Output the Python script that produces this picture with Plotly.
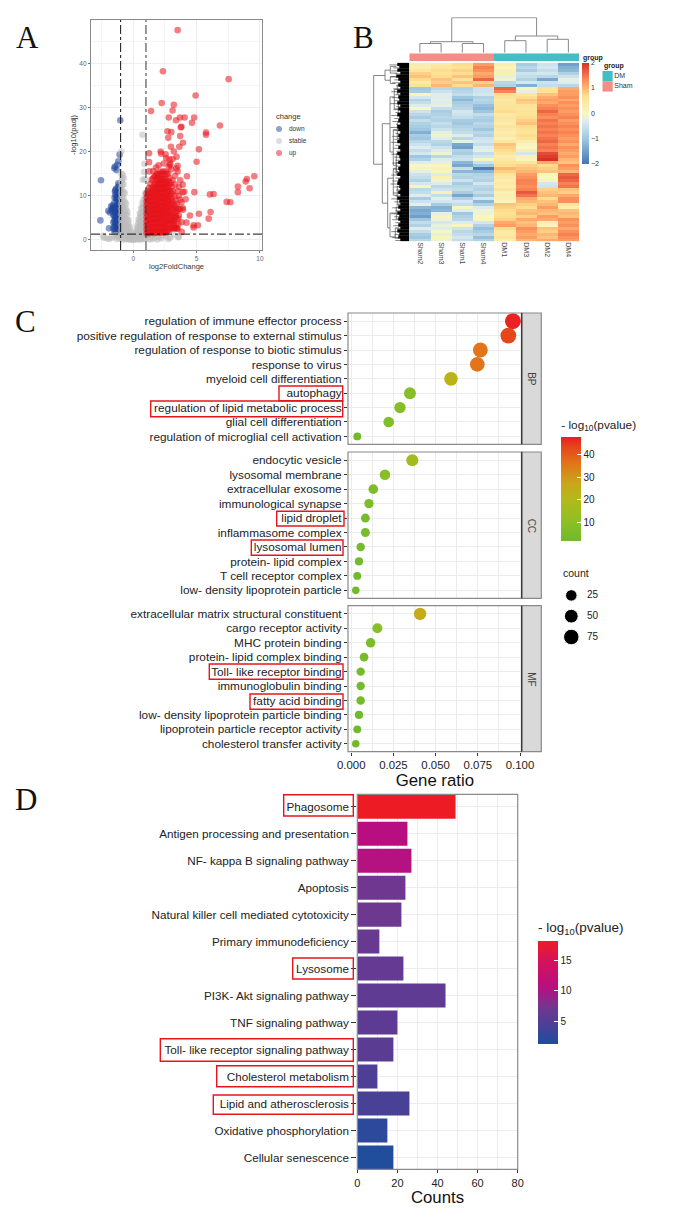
import plotly.graph_objects as go

W, H = 685, 1218

# ---- panel A: volcano
FC_CUT = 1.0
P_CUT = 1.3
vol_xrange = [-3.34, 10.16]
vol_yrange = [-2.3, 49.8]

down_x = [-1.03, -1.08, -1.18, -1.45, -1.26, -1.5, -1.32, -2.55, -2.6, -1.97, -1.68, -1.92, -1.18, -1.26, -1.45,
          -1.1, -1.26, -1.13, -1.35, -1.05, -1.2, -1.3, -1.1, -1.4, -1.55, -1.75, -1.85,
          -1.08, -1.22, -1.36, -1.15, -1.42, -1.06, -1.28, -1.5, -1.62, -1.7, -1.48]
down_y = [27.1, 19.3, 17.8, 16.6, 17, 16.2, 15.8, 13.5, 4.4, 6.6, 7.1, 2.6, 12.8, 10.9, 10.9,
          10.1, 9.8, 9, 11.6, 11.2, 12, 9.2, 8.6, 10.2, 7.4, 7.6, 6.2,
          12.4, 10.4, 9.5, 9.4, 11.3, 11, 8.7, 8.4, 7.8, 6.6, 9.6]
down_core = {
    -1.02: [1.6, 2.4, 3.3, 4.1, 5, 5.8, 6.7, 7.5, 8.3],
    -1.1: [1.8, 2.7, 3.5, 4.4, 5.2, 6.1, 6.9, 7.8],
    -1.18: [1.5, 2.3, 3.2, 4, 4.9, 5.7, 6.6, 7.4, 8],
    -1.26: [1.9, 2.8, 3.6, 4.5, 5.3, 6.2, 7, 7.7],
    -1.34: [1.7, 2.5, 3.4, 4.2, 5.1, 5.9, 6.8, 7.5],
    -1.42: [2.1, 3, 3.8, 4.7, 5.5, 6.4, 7.2],
    -1.5: [2, 3.1, 4.3, 5.4, 6.5, 7.3],
    -1.58: [2.6, 4, 5.6, 6.9],
}

stable_x = [0.72, -0.95, 0.88, 0.85, 0.75, 0.92, -0.85, -0.9, -0.75, -2.4, -2.3, -2.05, -1.7, -1.5, -1.3, -1.2, -1.1,
            1.1, 1.2, 1.4, 1.5, 1.7, 1.9, 2, 2.3, 2.6, 2.9, 3.2, 3.55, 3.6, -1.9, -1.4, 1.3, 2.2, 2.75]
stable_y = [23.8, 20, 17.2, 15.4, 13.6, 13.7, 14.8, 13.5, 14, 0.9, 0.5, 0.3, 0.5, 0.8, 0.2, 0.9, 0.5,
            0.9, 0.4, 0.9, 0.2, 0.5, 0.1, 0.7, 1, 0.9, 0.5, 1.1, 0.6, 0.8, 0.2, 1.1, 0.1, 0.3, 0.2]
stable_core = {
    -0.96: [0.2, 1, 2.2, 3.4, 4.6, 5.8, 7, 8.2, 9.4, 10.6, 11.8, 13, 15],
    -0.87: [0.5, 1.6, 2.8, 4, 5.2, 6.4, 7.6, 8.8, 10, 11.2, 12.4, 14],
    -0.78: [0.1, 1.2, 2.4, 3.6, 4.8, 6, 7.2, 8.4, 9.6, 10.8, 12.6],
    -0.68: [0.4, 1.5, 2.7, 3.9, 5.1, 6.3, 7.5, 8.7, 10.6],
    -0.58: [0.2, 1.1, 2.2, 3.4, 4.6, 5.8, 7, 8.2],
    -0.48: [0.3, 1.2, 2.3, 3.4, 4.5, 5.6, 6.4],
    -0.38: [0.1, 0.9, 1.8, 2.7, 3.6, 4.4],
    -0.28: [0.2, 0.8, 1.5, 2.2, 2.9],
    -0.18: [0.1, 0.5, 1, 1.6],
    -0.08: [0.1, 0.4, 0.7],
    0.02: [0, 0.3, 0.6],
    0.12: [0.1, 0.5, 0.9],
    0.22: [0.2, 0.8, 1.4, 2],
    0.32: [0.3, 1, 1.8, 2.6, 3.2],
    0.42: [0.1, 1, 2, 3, 4, 4.6],
    0.52: [0.3, 1.2, 2.2, 3.2, 4.2, 5.2, 6],
    0.62: [0.1, 1.1, 2.1, 3.1, 4.1, 5.1, 6.1, 7.2],
    0.72: [0.4, 1.4, 2.4, 3.4, 4.4, 5.4, 6.4, 7.4, 8.4],
    0.82: [0.2, 1.2, 2.2, 3.2, 4.2, 5.2, 6.2, 7.2, 8.2, 9.2],
    0.93: [0.4, 1.3, 2.3, 3.3, 4.3, 5.3, 6.3, 7.3, 8.3, 9.3, 10.6],
}

up_x = [3.5, 2.34, 7.53, 4.92, 2.24, 3.2, 3.1, 1.4, 2.8, 3.37, 3.68, 4.05, 4.8, 4.63, 6.84, 3.8, 3.75, 5.74, 5.74, 2.7, 3,
        3.7, 2.76, 3.92, 3.63, 2.97, 5.18, 2.16, 3.2, 1.24, 2.55, 3.42, 1.24, 5, 2, 2.9, 3.5, 1.58, 1.26, 4.24, 9.55,
        8.97, 8.87, 8.26, 9.18, 8.26, 4.82, 6.05, 6.34, 7.37, 7.66, 4.13, 3.68, 3.92, 6.1, 5.18, 4.47, 5.95, 3.82, 4.2,
        4.76, 5.1, 4.76, 3.3, 3.82, 4.03, 2.9, 2.8, 3, 3.5, 3.3, 3.7, 3.9, 3.6, 3.5, 3.9, 3.3, 3.1, 3.4, 2.6, 2.85, 2.4,
        1.8, 2.2, 3.1, 3.6, 3.8, 3.7, 3.4, 3.6, 3.3, 3.1, 3.9, 3.2, 3.4, 3.5]
up_y = [47.5, 38.2, 36.4, 32.7, 31, 30.6, 29.3, 29.2, 27.7, 27.1, 27.7, 27.7, 27.7, 26.5, 25.9, 25.6, 25.5, 24.3, 23.8, 24.6, 24.4,
        23.5, 23.1, 22, 21.1, 21.1, 20.5, 20, 20, 19.6, 19.4, 18.8, 17.6, 17.7, 16.9, 17.3, 16.8, 15.6, 15.5, 14.4, 14.4,
        13.8, 13.2, 12.1, 11.7, 10.8, 10.8, 10.3, 10.4, 8.6, 8.5, 9.2, 9.1, 6.8, 6.3, 5.9, 5.5, 4.8, 4, 3.9,
        3.3, 3.3, 2.8, 2.6, 1.8, 10.9, 17, 16.5, 16, 15.5, 14.5, 13.5, 12.5, 12, 11, 10.8, 12.5, 13.5, 16.2, 18.5, 18.2, 17.3,
        16.4, 19.5, 18.3, 10, 8.5, 7, 6.5, 5.5, 5, 4.5, 7.2, 3.1, 2.7, 2.5]
up_core = {
    1.05: [1.5, 2.4, 3.3, 4.2, 5.1, 6, 6.9, 7.8, 8.7, 9.6, 10.5],
    1.15: [1.7, 2.6, 3.5, 4.4, 5.3, 6.2, 7.1, 8, 8.9, 9.8, 11.1],
    1.25: [1.5, 2.5, 3.5, 4.5, 5.5, 6.5, 7.5, 8.5, 9.5, 10.5, 11.8],
    1.35: [1.8, 2.8, 3.8, 4.8, 5.8, 6.8, 7.8, 8.8, 9.8, 10.8, 12.7],
    1.45: [1.6, 2.6, 3.6, 4.6, 5.6, 6.6, 7.6, 8.6, 9.6, 10.6, 11.6, 13.6],
    1.55: [1.9, 2.9, 3.9, 4.9, 5.9, 6.9, 7.9, 8.9, 9.9, 10.9, 11.9, 13.9],
    1.65: [1.5, 2.6, 3.7, 4.8, 5.9, 7, 8.1, 9.2, 10.3, 11.4, 12.5, 14.3],
    1.75: [1.8, 2.8, 3.8, 4.8, 5.8, 6.8, 7.8, 8.8, 9.8, 10.8, 11.8, 12.8, 14.5],
    1.85: [1.6, 2.7, 3.8, 4.9, 6, 7.1, 8.2, 9.3, 10.4, 11.5, 12.6, 13.7, 14.9],
    1.95: [1.9, 2.9, 3.9, 4.9, 5.9, 6.9, 7.9, 8.9, 9.9, 10.9, 11.9, 12.9, 13.9, 15],
    2.05: [1.7, 2.8, 3.9, 5, 6.1, 7.2, 8.3, 9.4, 10.5, 11.6, 12.7, 13.8, 14.9],
    2.15: [1.6, 2.6, 3.6, 4.6, 5.6, 6.6, 7.6, 8.6, 9.6, 10.6, 11.6, 12.6, 13.6, 15.4],
    2.25: [1.9, 3, 4.1, 5.2, 6.3, 7.4, 8.5, 9.6, 10.7, 11.8, 12.9, 14, 15],
    2.35: [1.7, 2.7, 3.7, 4.7, 5.7, 6.7, 7.7, 8.7, 9.7, 10.7, 11.7, 12.7, 13.7, 15.5],
    2.45: [1.8, 2.9, 4, 5.1, 6.2, 7.3, 8.4, 9.5, 10.6, 11.7, 12.8, 13.9, 14.9],
    2.55: [1.6, 2.7, 3.8, 4.9, 6, 7.1, 8.2, 9.3, 10.4, 11.5, 12.6, 13.7, 15.4],
    2.65: [2, 3.1, 4.2, 5.3, 6.4, 7.5, 8.6, 9.7, 10.8, 11.9, 13, 15],
    2.75: [2.3, 3.4, 4.5, 5.6, 6.7, 7.8, 8.9, 10, 11.1, 12.2, 13.3, 15],
    2.85: [2.2, 3.5, 4.8, 6.1, 7.4, 8.7, 10, 11.3, 12.6, 14],
    2.95: [2.6, 4, 5.4, 6.8, 8.2, 9.6, 11, 12.9],
    3.05: [2.8, 4.3, 5.8, 7.3, 8.8, 10.3, 12],
    3.15: [2.5, 4, 5.5, 7, 8.5, 11],
    3.25: [2.7, 4.4, 6.1, 7.8, 9.9],
    3.35: [3.4, 5.4, 7.4, 9],
    3.45: [2.6, 4.8, 6.4, 8],
    3.55: [3.6, 4.9, 7],
}

# ---- panel B: heatmap
samples = ["Sham2", "Sham3", "Sham1", "Sham4", "DM1", "DM3", "DM2", "DM4"]
sample_group = [0, 0, 0, 0, 1, 1, 1, 1]
expr = [
    [.3, .4, .7, 1.2, .3, -.9, -.5, -1.5], [.3, .5, .6, 1.4, .1, -.7, -.4, -1.3],
    [.5, .7, .8, 1.3, .2, -.9, -.6, -1.2], [.8, .6, .7, 1.1, .2, -.5, -.4, -.8],
    [.9, .7, .9, 1.2, -.2, -.6, -.7, -.5], [.7, .9, .6, 1.6, -.1, -.8, -1.4, -.2],
    [.4, .8, .9, .8, -.7, -.4, -.5, -.3], [.6, 1.0, .7, 1.0, -.8, -1.3, -.6, -.7],
    [-1, -.7, -.8, -.5, 1.6, .1, .6, 1.1], [-.9, -.5, -.7, -.5, 1.4, -.2, .6, 1.2],
    [.1, -.3, -.6, -.4, .7, .5, .9, 1.2], [-.4, -.3, -1.0, -.8, .6, .7, 1.1, 1.3],
    [-.8, -.2, -1.2, -.7, .4, .9, 1.2, 1.1], [-.6, -.3, -.9, -.8, .5, .8, 1.1, 1.3],
    [-.3, -.2, -.8, -1.1, .5, .6, 1.3, 1.2], [.0, -.6, -.7, -1.2, .6, .5, 1.4, 1.3],
    [-.5, -.9, -.4, -1, .7, .6, 1.6, 1.2], [-.7, -.8, -.5, -.6, .4, .6, 1.4, 1.3],
    [-.9, -.7, -.6, -.8, .5, .7, 1.3, 1.4], [-.6, -.8, -.9, -.9, .4, .8, 1.5, 1.2],
    [-.8, -.6, -1.0, -.7, .3, .9, 1.4, 1.3], [-.9, -.7, -.8, -.8, .5, .7, 1.5, 1.4],
    [-1, -.5, -.7, -1, .4, .6, 1.4, 1.3], [-1.3, -.2, -.6, -.7, .3, .5, 1.5, 1.4],
    [-.9, -.1, -.3, -.8, .4, .7, 1.4, 1.3], [-1, -.3, -.7, -.5, .2, .6, 1.5, 1.2],
    [-.7, -.7, -.2, -.4, .5, .3, 1.6, 1.3], [-.5, -.8, -1.4, -.6, .9, .1, 1.4, 1.1],
    [-.3, -.5, -1.5, -.3, .8, .0, 1.5, 1.3], [-.6, -.3, -.8, -.2, .7, .3, 1.4, 1.2],
    [-.4, -.1, -.9, -.6, .5, -.4, 1.8, 1.1], [-1.0, -.7, -.6, -.4, .3, .2, 1.9, 1.2],
    [-.8, -.3, -.5, .1, .4, .1, 2.0, 1.0], [-.3, -.2, -1.2, -.5, .6, .5, 1.1, .9],
    [.0, .1, -1.4, -1.0, .7, .8, .7, 1.3], [.1, .2, -.6, -1.9, 1.0, .9, .8, 1.2],
    [-.2, .1, -1.2, -1.2, .8, 1.0, .9, 1.0], [-.5, -.3, -.7, -.8, .6, 1.2, .1, 1.6],
    [-.6, .2, -.8, -.7, .4, 1.3, 0, 1.7], [-.8, -.1, -.5, -.8, .3, 1.4, .1, 1.6],
    [-.4, -.3, -.9, -.4, .4, 1.4, -.4, 1.4], [.1, -.7, -.7, -.7, .3, 1.3, -.5, 1.5],
    [-.7, -.5, -.6, -.8, .5, 1.4, .8, .9], [-.6, .2, -.9, -.6, .2, 1.7, .9, .8],
    [-.3, -.6, -1.4, -.9, .3, 1.5, 1.0, 1.1], [-.9, -.2, -.8, -.4, .2, 1.1, .7, 1.3],
    [-.5, -.4, -.4, -1.2, .1, 1.0, .9, 1.3], [-.2, -.9, -.6, -.8, .9, .8, 1.0, .5],
    [-1.2, -1.3, .1, -.3, .8, .7, 1.2, .3], [-1.4, -1.2, -.3, -.1, .7, .9, 1.0, .9],
    [-1.3, -.2, -1.0, -.1, .6, 1.0, .9, 1.0], [-1.5, .1, -.8, .0, .7, .8, 1.2, .9],
    [-1.0, -.1, -.7, .1, .8, 1.1, 1.1, 1.3], [-.6, -.4, -.3, -.4, 1.1, .9, .2, 1.2],
    [-.8, -.2, .1, -.8, 1.2, 1.0, .1, 1.3], [-.3, -.3, -.5, -1.1, .7, 1.3, .9, 1.1],
    [-.6, .0, -.7, -.9, .4, 1.2, .8, 1.3], [-.9, -.2, -.6, -.7, .4, 1.1, 1.0, 1.4],
    [-1.0, .1, -.4, -1.1, .5, 1.2, .9, 1.3], [-.7, -.1, -.6, -.8, .3, 1.0, 1.1, 1.2],
]
# column dendrogram: left leaf, right leaf, left height, right height, top height
col_left = [0, 2, 0.5, 4, 6, 4.5, 1.5]
col_right = [1, 3, 2.5, 5, 7, 6.5, 5.5]
col_left_h = [0, 0, 9.2, 0, 0, 12, 11]
col_right_h = [0, 0, 9.2, 0, 0, 13.4, 16.7]
col_top_h = [9.2, 9.2, 11, 12, 13.4, 16.7, 35]
# row dendrogram: depth in px left of the heatmap, rows spanned, depth of both children
row_depth = [35.6, 24.3, 19, 19, 27, 19.3, 15, 12, 11, 16, 12, 13, 21.6, 16, 13, 12, 19.3, 13, 14]
row_top = [3.8, 2, 0.8, 4.2, 20, 11, 8.5, 7, 13, 22, 19.5, 30, 38.3, 35, 33, 41, 50, 48, 55]
row_bottom = [33.6, 5.4, 3, 6.5, 46.7, 29.5, 15, 10, 17, 34, 25, 36, 55, 44, 37, 47, 58, 52, 58.5]
row_top_child = [24.3, 19, 13, 12, 19.3, 15, 12, 10, 10, 12, 10, 10, 16, 13, 10, 10, 13, 10, 10]
row_bottom_child = [27, 19, 12, 14, 21.6, 16, 11, 10, 9, 13, 9, 11, 19.3, 12, 10, 9, 14, 10, 10]
row_leaf = [12, 10, 12, 9, 13, 11, 9, 11, 9, 12, 9, 11, 10, 12, 9, 11, 9, 12, 10, 11, 9, 12, 11, 9, 11, 10, 12, 9, 11, 9,
            12, 10, 9, 11, 9, 11, 10, 12, 9, 11, 12, 10, 9, 11, 9, 12, 10, 9, 11, 9, 12, 10, 11, 9, 11, 9, 12, 10, 11, 9]
row_whisker = [20, 16, 18, 14, 19, 15, 17, 13, 16, 18, 14, 17, 15, 19, 13, 16, 14, 18, 15, 17, 13, 19, 16, 14, 17, 15, 18, 14, 16, 13,
               18, 15, 14, 17, 13, 16, 15, 18, 14, 17, 19, 15, 13, 16, 14, 18, 15, 13, 17, 14, 18, 15, 17, 14, 16, 13, 18, 15, 17, 14]

# ---- panel C: dot plots
bp_terms = ["regulation of immune effector process", "positive regulation of response to external stimulus",
            "regulation of response to biotic stimulus", "response to virus", "myeloid cell differentiation",
            "autophagy", "regulation of lipid metabolic process", "glial cell differentiation",
            "regulation of microglial cell activation"]
bp_ratio = [.0958, .0931, .0765, .0747, .0591, .0348, .0289, .0222, .0036]
bp_count = [80, 78, 64, 62, 49, 29, 24, 18, 3]
bp_logp = [47, 43, 36, 36, 22, 8, 8, 7, 3]

cc_terms = ["endocytic vesicle", "lysosomal membrane", "extracellular exosome", "immunological synapse",
            "lipid droplet", "inflammasome complex", "lysosomal lumen", "protein- lipid complex",
            "T cell receptor complex", "low- density lipoprotein particle"]
cc_ratio = [.0362, .0200, .0131, .0105, .0084, .0084, .0056, .0046, .0036, .0027]
cc_count = [30, 17, 11, 9, 7, 7, 5, 4, 3, 2]
cc_logp = [16, 9, 6, 5, 4, 4, 3, 3, 2, 2]

mf_terms = ["extracellular matrix structural constituent", "cargo receptor activity", "MHC protein binding",
            "protein- lipid complex binding", "Toll- like receptor binding", "immunoglobulin binding",
            "fatty acid binding", "low- density lipoprotein particle binding",
            "lipoprotein particle receptor activity", "cholesterol transfer activity"]
mf_ratio = [.0408, .0155, .0115, .0076, .0056, .0056, .0056, .0046, .0036, .0027]
mf_count = [34, 13, 10, 6, 5, 5, 5, 4, 3, 2]
mf_logp = [26, 9, 5, 4, 3, 3, 3, 2, 2, 2]

count_levels = [25, 50, 75]

# ---- panel D: bars
kegg_terms = ["Phagosome", "Antigen processing and presentation", "NF- kappa B signaling pathway", "Apoptosis",
              "Natural killer cell mediated cytotoxicity", "Primary immunodeficiency", "Lysosome",
              "PI3K- Akt signaling pathway", "TNF signaling pathway", "Toll- like receptor signaling pathway",
              "Cholesterol metabolism", "Lipid and atherosclerosis", "Oxidative phosphorylation", "Cellular senescence"]
kegg_count = [49, 25, 27, 24, 22, 11, 23, 44, 20, 18, 10, 26, 15, 18]
kegg_logp = [18.2, 10.6, 10.4, 7.2, 7, 6.6, 6.4, 6, 5.8, 5.6, 4.6, 4.2, 2.4, 1.6]


SANS = "Liberation Sans, Arial, sans-serif"
SERIF = "Liberation Serif, Times New Roman, serif"
GRID = "#ececec"
FRAME = "#8a8a8a"


def fx(p):
    return p / W


def fy(p):
    return 1 - p / H


fig = go.Figure()


def add_panel(n, box, xopts, yopts):
    left, right, top, bottom = box
    fig.update_layout(**{
        f"xaxis{n}": dict(domain=[fx(left), fx(right)], anchor=f"y{n}", automargin=False, **xopts),
        f"yaxis{n}": dict(domain=[fy(bottom), fy(top)], anchor=f"x{n}", automargin=False, **yopts),
    })
    return dict(xaxis=f"x{n}", yaxis=f"y{n}")


def flatten(core):
    xs, ys = [], []
    for x, col in core.items():
        xs += [x] * len(col)
        ys += col
    return xs, ys


def text(x, y, s, size, color="#222", family=SANS, xanchor="left", angle=0, bold=False):
    fig.add_annotation(xref="paper", yref="paper", x=fx(x), y=fy(y), text=f"<b>{s}</b>" if bold else s, showarrow=False,
                       xanchor=xanchor, yanchor="middle", textangle=angle, font=dict(size=size, color=color, family=family))


def rect(box, line, width=1, fill=None):
    left, right, top, bottom = box
    fig.add_shape(type="rect", xref="paper", yref="paper", x0=fx(left), x1=fx(right), y0=fy(bottom), y1=fy(top),
                  line=dict(color=line, width=width), fillcolor=fill, layer="above")


hidden = dict(visible=False, fixedrange=True)

# ---- A
ax = add_panel(1, (91, 262, 20, 250),
               dict(range=vol_xrange, tick0=0, dtick=5, showgrid=True, gridcolor="#eeeeee", gridwidth=0.7, zeroline=False,
                    minor=dict(dtick=2.5, showgrid=True, gridcolor="#f5f5f5", gridwidth=0.5),
                    showline=True, mirror=True, linecolor=FRAME, linewidth=1.2, ticks="outside", ticklen=2, tickcolor="#777",
                    tickfont=dict(size=6.5, color="#666", family=SANS),
                    title=dict(text="log2FoldChange", font=dict(size=7.5, color="#333", family=SANS), standoff=1)),
               dict(range=vol_yrange, tick0=0, dtick=10, showgrid=True, gridcolor="#eeeeee", gridwidth=0.7, zeroline=False,
                    minor=dict(dtick=5, showgrid=True, gridcolor="#f5f5f5", gridwidth=0.5),
                    showline=True, mirror=True, linecolor=FRAME, linewidth=1.2, ticks="outside", ticklen=2, tickcolor="#777",
                    tickfont=dict(size=6.5, color="#666", family=SANS),
                    title=dict(text="-log10(padj)", font=dict(size=7.5, color="#333", family=SANS), standoff=1)))

vol_colors = {"down": "#1f459f", "stable": "#bcbcbc", "up": "#e8141c"}
dx, dy = flatten(down_core)
sx, sy = flatten(stable_core)
ux, uy = flatten(up_core)
for name, xs, ys in [("down", down_x + dx, down_y + dy), ("stable", stable_x + sx, stable_y + sy), ("up", up_x + ux, up_y + uy)]:
    fig.add_trace(go.Scatter(x=xs, y=ys, mode="markers", name=name, showlegend=False,
                             marker=dict(size=6.6, color=vol_colors[name], opacity=0.55, line=dict(width=0)), **ax))
cut_line = dict(color="#111", width=1, dash="dashdot")
fig.add_trace(go.Scatter(x=[-FC_CUT, -FC_CUT], y=vol_yrange, mode="lines", line=cut_line, showlegend=False, **ax))
fig.add_trace(go.Scatter(x=[FC_CUT, FC_CUT], y=vol_yrange, mode="lines", line=dict(color="#333", width=1, dash="dashdot"), showlegend=False, **ax))
fig.add_trace(go.Scatter(x=vol_xrange, y=[P_CUT, P_CUT], mode="lines", line=cut_line, showlegend=False, **ax))

key_names = list(vol_colors)
ax = add_panel(10, (270, 330, 123, 159), dict(range=[0, 60], **hidden),
               dict(type="category", categoryarray=key_names, range=[2.5, -0.5], **hidden))
fig.add_trace(go.Scatter(x=[9] * 3, y=key_names, mode="markers", showlegend=False,
                         marker=dict(size=6, color=list(vol_colors.values()), opacity=0.5), **ax))
fig.add_trace(go.Scatter(x=[19] * 3, y=key_names, mode="text", text=key_names, textposition="middle right", showlegend=False,
                         textfont=dict(size=6.5, color="#333", family=SANS), cliponaxis=False, **ax))
text(274, 116, "change", 7.5, "#333")

# ---- B
heat_colors = [[0, "#4575b4"], [0.25, "#9fc8e0"], [0.42, "#dcebf0"], [0.5, "#f7f7c4"], [0.67, "#fee090"], [0.83, "#fc8d59"], [1, "#d73027"]]
ax = add_panel(2, (409.3, 579, 62.7, 241.3),
               dict(type="category", categoryarray=samples, showgrid=False, ticks="", showline=False, zeroline=False, tickangle=90,
                    tickfont=dict(size=7, color="#444", family=SANS)),
               dict(range=[len(expr) - 0.5, -0.5], showgrid=False, zeroline=False, showticklabels=False, ticks=""))
fig.add_trace(go.Heatmap(z=expr, x=samples, y=list(range(len(expr))), coloraxis="coloraxis", **ax))
fig.update_layout(coloraxis=dict(cmin=-2, cmax=2, colorscale=heat_colors, colorbar=dict(
    x=fx(582.3), xanchor="left", xpad=0, y=fy(62.7), yanchor="top", ypad=0, lenmode="pixels", len=100.6,
    thicknessmode="pixels", thickness=6.7, outlinewidth=0, tickvals=[-2, -1, 0, 1, 2], ticks="",
    tickfont=dict(size=7, color="#333", family=SANS))))

ax = add_panel(3, (409.3, 579, 53.3, 61), dict(type="category", categoryarray=samples, **hidden), dict(**hidden))
fig.add_trace(go.Heatmap(z=[sample_group], x=samples, y=["group"], zmin=0, zmax=1, showscale=False,
                         colorscale=[[0, "#f28e86"], [0.5, "#f28e86"], [0.5, "#45bdc7"], [1, "#45bdc7"]], **ax))
text(581, 58, "group", 7, "#222", bold=True)

ax = add_panel(4, (409.3, 579, 17.3, 52.7), dict(range=[-0.5, 7.5], **hidden), dict(range=[0, 35.4], **hidden))
px_, py_ = [], []
for l, r, lh, rh, h in zip(col_left, col_right, col_left_h, col_right_h, col_top_h):
    px_ += [l, l, r, r, None]
    py_ += [lh, h, h, rh, None]
fig.add_trace(go.Scatter(x=px_, y=py_, mode="lines", line=dict(color="#888", width=1), showlegend=False, **ax))

ax = add_panel(5, (373, 409.3, 62.7, 241.3), dict(range=[36.3, 0], **hidden), dict(range=[len(expr) - 0.5, -0.5], **hidden))
px_, py_ = [], []
for d, t, b, tc, bc in zip(row_depth, row_top, row_bottom, row_top_child, row_bottom_child):
    px_ += [tc, d, d, bc, None]
    py_ += [t, t, b, b, None]
fig.add_trace(go.Scatter(x=px_, y=py_, mode="lines", line=dict(color="#666", width=0.8), showlegend=False, **ax))
wx, wy = [], []
for i, depth in enumerate(row_whisker):
    wx += [0, depth, None]
    wy += [i + 0.25, i + 0.25, None]
fig.add_trace(go.Scatter(x=wx, y=wy, mode="lines", line=dict(color="#333", width=0.6), showlegend=False, **ax))
lx, ly = [], []
for i, depth in enumerate(row_leaf):
    lx += [0, depth, None]
    ly += [i, i, None]
fig.add_trace(go.Scatter(x=lx, y=ly, mode="lines", line=dict(color="#000", width=3.4), showlegend=False, **ax))

group_names = ["DM", "Sham"]
ax = add_panel(12, (602.3, 635, 71, 91.7), dict(range=[0, 32.7], **hidden),
               dict(type="category", categoryarray=group_names, range=[1.5, -0.5], **hidden))
fig.add_trace(go.Scatter(x=[5.2, 5.2], y=group_names, mode="markers", showlegend=False,
                         marker=dict(symbol="square", size=10.4, color=["#45bdc7", "#f28e86"], line=dict(width=0)), **ax))
fig.add_trace(go.Scatter(x=[12, 12], y=group_names, mode="text", text=group_names, textposition="middle right", showlegend=False,
                         textfont=dict(size=7, color="#333", family=SANS), cliponaxis=False, **ax))
text(602, 66, "group", 7, "#222", bold=True)


# ---- C
def dot_size(count):
    return 6 + 1.1 * count ** 0.5


dot_scale = [[0, "#6fba2c"], [0.2, "#8fc024"], [0.4, "#b4b81a"], [0.55, "#c8a81a"], [0.75, "#e2731a"], [0.9, "#e5471a"], [1, "#ec1c24"]]
fig.update_layout(coloraxis2=dict(cmin=1.6, cmax=47.6, colorscale=dot_scale, colorbar=dict(
    title=dict(text="- log<sub>10</sub>(pvalue)", side="top", font=dict(size=11.8, color="#222", family=SANS)),
    x=fx(561.3), xanchor="left", xpad=0, y=fy(417), yanchor="top", ypad=0, lenmode="pixels", len=124,
    thicknessmode="pixels", thickness=20.4, outlinewidth=0, tickvals=[10, 20, 30, 40], ticks="inside", ticklen=4,
    tickcolor="white", tickfont=dict(size=10, color="#222", family=SANS))))

panels = [(6, (348, 521.7, 313, 444.3), bp_terms, bp_ratio, bp_count, bp_logp, "BP"),
          (7, (348, 521.7, 452, 598.3), cc_terms, cc_ratio, cc_count, cc_logp, "CC"),
          (8, (348, 521.7, 605.7, 751.7), mf_terms, mf_ratio, mf_count, mf_logp, "MF")]
for n, box, terms, ratio, count, logp, strip in panels:
    last = n == 8
    xopts = dict(range=[-0.0019, 0.101], tick0=0, dtick=0.025, showgrid=True, gridcolor=GRID, gridwidth=1, zeroline=False,
                 minor=dict(dtick=0.0125, showgrid=True, gridcolor=GRID, gridwidth=1),
                 ticks="outside" if last else "", ticklen=3, tickcolor="#333", showticklabels=last, tickformat=".3f",
                 tickfont=dict(size=11.4, color="#222", family=SANS))
    if last:
        xopts["title"] = dict(text="Gene ratio", font=dict(size=16.8, color="#111", family=SANS), standoff=1)
    ax = add_panel(n, box, xopts,
                   dict(type="category", categoryarray=terms, range=[len(terms) - 0.45, -0.57], showgrid=True, gridcolor=GRID,
                        gridwidth=1, zeroline=False, ticks="outside", ticklen=3, tickcolor="#333",
                        tickfont=dict(size=11.8, color="#222", family=SANS)))
    fig.add_trace(go.Scatter(x=ratio, y=terms, mode="markers", showlegend=False, cliponaxis=True,
                             marker=dict(size=[dot_size(c) for c in count], color=logp, coloraxis="coloraxis2", opacity=1,
                                         line=dict(width=0)), **ax))
    left, right, top, bottom = box
    rect((right, 541.3, top, bottom), FRAME, 1.2, "#d9d9d9")
    rect((left, right, top, bottom), FRAME, 1.2)
    fig.add_shape(type="line", xref="paper", yref="paper", x0=fx(right), x1=fx(right), y0=fy(top), y1=fy(bottom),
                  line=dict(color="#333", width=1.2), layer="above")
    text((right + 541.3) / 2, (top + bottom) / 2, strip, 10, "#444", xanchor="center", angle=90)

levels = [str(c) for c in count_levels]
ax = add_panel(11, (561, 600, 585, 647.4), dict(range=[0, 39], **hidden),
               dict(type="category", categoryarray=levels, range=[2.5, -0.5], **hidden))
fig.add_trace(go.Scatter(x=[10.3] * 3, y=levels, mode="markers", showlegend=False,
                         marker=dict(size=[dot_size(c) for c in count_levels], color="#000", opacity=1), **ax))
fig.add_trace(go.Scatter(x=[26] * 3, y=levels, mode="text", text=levels, textposition="middle right", showlegend=False,
                         textfont=dict(size=10, color="#222", family=SANS), cliponaxis=False, **ax))
text(561, 573, "count", 10.5, "#222")

# ---- D
bar_scale = [[0, "#1c4e9e"], [0.18, "#4a4096"], [0.35, "#6f3790"], [0.55, "#b80f80"], [0.8, "#d4125c"], [1, "#ed1c24"]]
fig.update_layout(coloraxis3=dict(cmin=1.3, cmax=18.2, colorscale=bar_scale, colorbar=dict(
    title=dict(text="- log<sub>10</sub>(pvalue)", side="top", font=dict(size=13.5, color="#222", family=SANS)),
    x=fx(538), xanchor="left", xpad=0, y=fy(919), yanchor="top", ypad=0, lenmode="pixels", len=125.3,
    thicknessmode="pixels", thickness=20, outlinewidth=0, tickvals=[5, 10, 15], ticks="inside", ticklen=4,
    tickcolor="white", tickfont=dict(size=10, color="#222", family=SANS))))
ax = add_panel(9, (357.3, 517.7, 794.3, 1169.3),
               dict(range=[0, 80], tick0=0, dtick=20, showgrid=True, gridcolor=GRID, gridwidth=1, zeroline=False,
                    minor=dict(dtick=10, showgrid=True, gridcolor=GRID, gridwidth=1), ticks="outside", ticklen=3, tickcolor="#333",
                    tickfont=dict(size=11, color="#222", family=SANS),
                    title=dict(text="Counts", font=dict(size=16.8, color="#111", family=SANS), standoff=1)),
               dict(type="category", categoryarray=kegg_terms, range=[13.44, -0.46], showgrid=True, gridcolor=GRID, gridwidth=1,
                    zeroline=False, ticks="outside", ticklen=5, tickcolor="#333", tickfont=dict(size=11.7, color="#222", family=SANS)))
fig.add_trace(go.Bar(x=kegg_count, y=kegg_terms, orientation="h", width=0.89, showlegend=False,
                     marker=dict(color=kegg_logp, coloraxis="coloraxis3", line=dict(width=0)), **ax))
rect((357.3, 517.7, 794.3, 1169.3), FRAME, 1.2)

# ---- highlight boxes round the labels
label_boxes = [(279, 342.7, 386, 400.7), (150.7, 342.7, 401, 416.7), (276.7, 344, 511.3, 526), (251.3, 343, 540, 555.3),
               (209.3, 343, 664, 679.3), (250, 343, 694, 709.3), (283.7, 353.3, 794.7, 816), (292.7, 353.3, 958, 979),
               (160.3, 353.3, 1038.7, 1061.3), (216.7, 353.3, 1065.7, 1086.7), (213.3, 353.3, 1095, 1114.3)]
for b in label_boxes:
    rect(b, "#e8141c", 1.4)

for letter, x, y in [("A", 14, 37), ("B", 351, 37), ("C", 13, 321), ("D", 13, 799)]:
    text(x, y, letter, 31, "#111", family=SERIF)

fig.update_layout(width=W, height=H, margin=dict(l=0, r=0, t=0, b=0, autoexpand=False), paper_bgcolor="white", plot_bgcolor="white",
                  template="none", showlegend=False, font=dict(family=SANS))
fig.write_html("out.html", config=dict(displayModeBar=False), post_script="document.body.style.margin='0';")
